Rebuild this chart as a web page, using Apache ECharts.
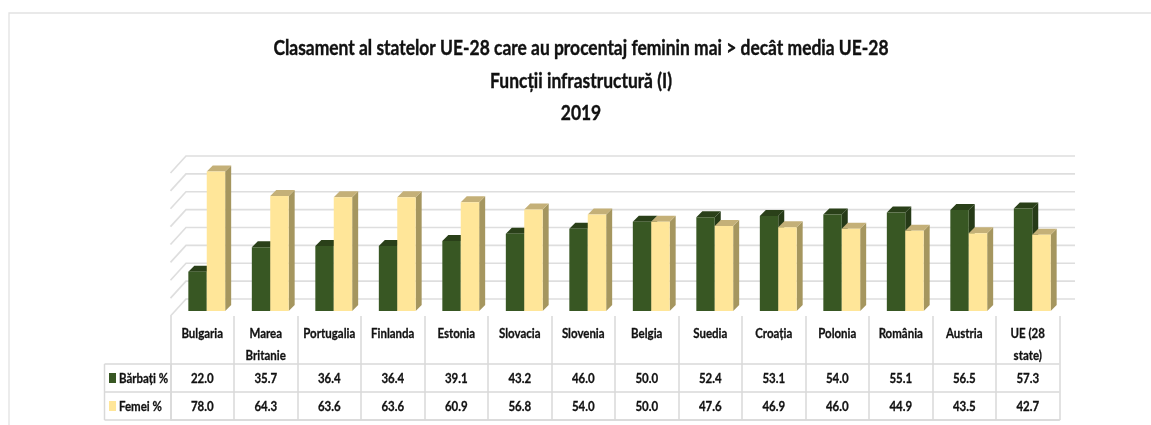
<!DOCTYPE html>
<html>
<head>
<meta charset="utf-8">
<style>
  html, body { margin: 0; padding: 0; background: #fff; }
  #chart { width: 1151px; height: 425px; }
</style>
<script src="https://cdn.jsdelivr.net/npm/echarts@6/dist/echarts.min.js"></script>
</head>
<body>
<div id="chart"></div>
<script>
const categories = ['Bulgaria', 'Marea\nBritanie', 'Portugalia', 'Finlanda', 'Estonia', 'Slovacia', 'Slovenia', 'Belgia', 'Suedia', 'Croația', 'Polonia', 'România', 'Austria', 'UE (28\nstate)'];
const barbati = [22.0, 35.7, 36.4, 36.4, 39.1, 43.2, 46.0, 50.0, 52.4, 53.1, 54.0, 55.1, 56.5, 57.3];
const femei = [78.0, 64.3, 63.6, 63.6, 60.9, 56.8, 54.0, 50.0, 47.6, 46.9, 46.0, 44.9, 43.5, 42.7];
const rowNames = ['Femei %', 'Bărbați %'];
const titleLines = ['Clasament al statelor UE-28 care au procentaj feminin mai > decât media UE-28', 'Funcții infrastructură (I)', '2019'];
const yTicks = [0, 10, 20, 30, 40, 50, 60, 70, 80];

const chart = echarts.init(document.getElementById('chart'));

const FONT = 'Lato, "Liberation Sans", sans-serif';
const GRID_LINE = '#dedede';
const TABLE_LINE = '#d9d9d9';
const GREEN = '#385723', YELLOW = '#ffe699';
// 3d look: how far the back wall / bar sides sit from the bar plane
const WALL_DX = 15.5, WALL_UP = 12, WALL_DOWN = 5;
const BAR_DEPTH = 6, BAR_SHIFT = 4.5;
// no narrow font installed, so Lato gets squeezed a bit and thickened with a thin stroke
const NARROW = 0.82, TITLE_NARROW = 0.83;

function poly(points, fill) {
  return { type: 'polygon', shape: { points: points }, style: { fill: fill }, silent: true };
}

function cellText(x, y, text, align) {
  return {
    type: 'text', x: x, y: y, scaleX: NARROW, silent: true,
    style: { text: text, align: align || 'center', verticalAlign: 'middle', fontFamily: FONT, fontWeight: 'bold', fontSize: 14, fill: '#111', stroke: '#111', lineWidth: 0.3 }
  };
}

// one 3d column: front face, top and right side
function barItem(side, front, top, right) {
  return function (params, api) {
    const start = api.coord([api.value(0), 0]);
    const end = api.coord([api.value(0), api.value(1)]);
    const w = api.size([1, 0])[0] * 0.29;
    const x0 = (side < 0 ? start[0] - w : start[0]) + BAR_SHIFT;
    const x1 = x0 + w;
    const y0 = start[1], y1 = end[1], d = BAR_DEPTH;
    return {
      type: 'group',
      children: [
        poly([[x1, y1], [x1 + d, y1 - d], [x1 + d, y0 - d], [x1, y0]], right),
        poly([[x0, y1], [x0 + d, y1 - d], [x1 + d, y1 - d], [x1, y1]], top),
        poly([[x0, y1], [x1, y1], [x1, y0], [x0, y0]], front)
      ]
    };
  };
}

// back wall lines with their diagonal on the left wall
function wallItem(params, api) {
  const left = api.coord([0, api.value(0)]);
  const x0 = left[0] - api.size([1, 0])[0] / 2;
  const xEnd = x0 + api.size([1, 0])[0] * categories.length + WALL_DX;
  const y = left[1];
  return {
    type: 'polyline',
    silent: true,
    shape: { points: [[x0, y + WALL_DOWN], [x0 + WALL_DX, y - WALL_UP], [xEnd, y - WALL_UP]] },
    style: { stroke: GRID_LINE, lineWidth: 1.6, fill: null }
  };
}

// category names in the table head, line by line
function headItem(params, api) {
  const i = api.value(0), line = api.value(1);
  const p = api.coord([i, 0]);
  return cellText(p[0], params.coordSys.y + 17 + line * 22, categories[i].split('\n')[line]);
}

function valueItem(params, api) {
  const p = api.coord([api.value(0), api.value(1)]);
  return cellText(p[0], p[1], api.value(2).toFixed(1));
}

// first column: colour key and row name
function rowItem(params, api) {
  const p = api.coord([0, api.value(0)]);
  const x = params.coordSys.x;
  const row = api.value(0);
  return {
    type: 'group',
    children: [
      { type: 'rect', silent: true, shape: { x: x - 61.5, y: p[1] - 5, width: 7, height: 10 }, style: { fill: row === 1 ? GREEN : YELLOW } },
      cellText(x - 51.5, p[1], rowNames[row], 'left')
    ]
  };
}

const headCells = [];
categories.forEach(function (c, i) {
  c.split('\n').forEach(function (t, line) { headCells.push([i, line]); });
});

chart.setOption({
  animation: false,
  backgroundColor: '#fff',
  graphic: [
    { type: 'polyline', silent: true, shape: { points: [[9, 425], [9, 13], [1151, 13]] }, style: { stroke: '#e2e2e2', lineWidth: 1.3, fill: null } },
    { type: 'line', silent: true, shape: { x1: 104.5, y1: 364, x2: 104.5, y2: 420 }, style: { stroke: TABLE_LINE, lineWidth: 1.5 } },
    {
      type: 'text', x: 581, y: 81, scaleX: TITLE_NARROW, silent: true,
      style: { text: titleLines.join('\n'), align: 'center', verticalAlign: 'middle', fontFamily: FONT, fontWeight: 'bold', fontSize: 21, lineHeight: 32.5, fill: '#111', stroke: '#111', lineWidth: 0.4 }
    }
  ],
  grid: [
    { left: 170.5, width: 889, top: 168, height: 143 },
    { left: 170.5, width: 889, top: 316, height: 48 },
    { left: 170.5, width: 889, top: 364, height: 56 }
  ],
  xAxis: [
    { gridIndex: 0, type: 'category', data: categories, show: false },
    {
      gridIndex: 1, type: 'category', data: categories, position: 'top',
      axisLine: { show: false }, axisTick: { show: false }, axisLabel: { show: false, interval: 0 },
      splitLine: { show: true, interval: 0, lineStyle: { color: TABLE_LINE, width: 1.5 } }
    },
    {
      gridIndex: 2, type: 'category', data: categories,
      axisLine: { show: true, lineStyle: { color: TABLE_LINE, width: 1.5 } }, axisTick: { show: false }, axisLabel: { show: false, interval: 0 },
      splitLine: { show: true, interval: 0, lineStyle: { color: TABLE_LINE, width: 1.5 } }
    }
  ],
  yAxis: [
    { gridIndex: 0, type: 'value', min: 0, max: 80, interval: 10, show: false },
    { gridIndex: 1, type: 'value', show: false },
    {
      gridIndex: 2, type: 'category', data: rowNames,
      axisLine: { show: true, lineStyle: { color: TABLE_LINE, width: 1.5 } },
      axisTick: { show: true, length: 66, lineStyle: { color: TABLE_LINE, width: 1.5 } },
      axisLabel: { show: false },
      splitLine: { show: true, lineStyle: { color: TABLE_LINE, width: 1.5 } }
    }
  ],
  series: [
    {
      name: 'grid', type: 'custom', xAxisIndex: 0, yAxisIndex: 0, z: 1, silent: true,
      renderItem: wallItem,
      encode: { y: 0 }, data: yTicks.map(function (v) { return [v]; })
    },
    {
      name: rowNames[1], type: 'custom', xAxisIndex: 0, yAxisIndex: 0, z: 2,
      renderItem: barItem(-1, GREEN, '#2a4019', '#263a17'),
      encode: { x: 0, y: 1 }, data: barbati.map(function (v, i) { return [i, v]; })
    },
    {
      name: rowNames[0], type: 'custom', xAxisIndex: 0, yAxisIndex: 0, z: 3,
      renderItem: barItem(1, YELLOW, '#c4b078', '#a5965f'),
      encode: { x: 0, y: 1 }, data: femei.map(function (v, i) { return [i, v]; })
    },
    {
      name: 'antet', type: 'custom', xAxisIndex: 1, yAxisIndex: 1, silent: true,
      renderItem: headItem, encode: { x: 0 }, data: headCells
    },
    {
      name: 'valori', type: 'custom', xAxisIndex: 2, yAxisIndex: 2, silent: true,
      renderItem: valueItem, encode: { x: 0, y: 1 },
      data: barbati.map(function (v, i) { return [i, 1, v]; }).concat(femei.map(function (v, i) { return [i, 0, v]; }))
    },
    {
      name: 'randuri', type: 'custom', xAxisIndex: 2, yAxisIndex: 2, silent: true,
      renderItem: rowItem, encode: { y: 0 }, data: rowNames.map(function (n, i) { return [i]; })
    }
  ]
});
</script>
</body>
</html>
